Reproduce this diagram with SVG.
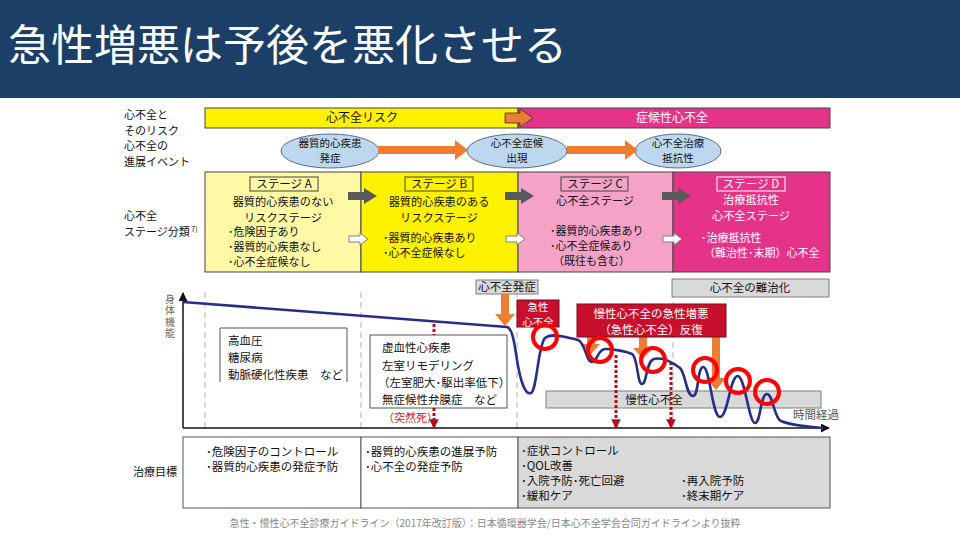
<svg xmlns="http://www.w3.org/2000/svg" width="960" height="540" viewBox="0 0 960 540">
<defs>
<style>
text{font-family:"Noto Sans CJK JP","Noto Sans",sans-serif;fill:#111}
.lbl{font-size:12px}
.st{font-size:11.2px}
.rl{font-size:11px}
.s{font-size:11.5px}
.b{font-size:11px}
.e{font-size:10.5px}
.c{text-anchor:middle}
.w{fill:#fff}
.ell{fill:#BDD7EE;stroke:#5a6f85;stroke-width:1}
.oa{fill:#ED7D31}
.ga{fill:#595959}
.wa{fill:#fff;stroke:#7f7f7f;stroke-width:1}
.grey{fill:#D9D9D9;stroke:#7f7f7f;stroke-width:1}
.redb{fill:#C8102E;stroke:#7a0a1a;stroke-width:1}
.circ{fill:none;stroke:#FF0000;stroke-width:4}
.rd{stroke:#B0101E;stroke-width:3;stroke-dasharray:3 2;fill:none}
.vd{stroke:#bfbfbf;stroke-width:1.2;stroke-dasharray:6 4}
</style>
<marker id="rh" viewBox="0 0 10 10" refX="9" refY="5" markerWidth="3.2" markerHeight="3.2" orient="auto"><path d="M0,0 L10,5 L0,10 z" fill="#B0101E"/></marker>
<marker id="kh" viewBox="0 0 10 10" refX="9" refY="5" markerWidth="6" markerHeight="6" orient="auto"><path d="M0,0 L10,5 L0,10 z" fill="#111"/></marker>
</defs>

<g id="header">
<rect x="0" y="0" width="960" height="98" fill="#1B3F66"/>
<text x="8" y="61" style="font-size:43px;fill:#fff">急性増悪は予後を悪化させる</text>
</g>

<g id="row-labels">
<text class="rl" x="124" y="119">心不全と</text>
<text class="rl" x="124" y="135">そのリスク</text>
<text class="rl" x="124" y="150">心不全の</text>
<text class="rl" x="124" y="166">進展イベント</text>
<text class="rl" x="124" y="220">心不全</text>
<text class="rl" x="124" y="236">ステージ分類<tspan style="font-size:7px" dy="-4"> 7)</tspan></text>
<text class="rl" x="133" y="476">治療目標</text>
</g>

<g id="risk-bar">
<rect x="205" y="108" width="313" height="20" fill="#FFF200" stroke="#444" stroke-width="1"/>
<rect x="518" y="108" width="312" height="20" fill="#E5338A" stroke="#444" stroke-width="1"/>
<text class="lbl c" x="362" y="122">心不全リスク</text>
<text class="lbl c w" x="672" y="122">症候性心不全</text>
<path d="M505,113 L520,113 L520,109 L533,118 L520,127 L520,123 L505,123 z" fill="#ED7D31" stroke="#333" stroke-width="0.8"/>
</g>

<g id="event-1">
<ellipse class="ell" cx="330" cy="151" rx="49" ry="17"/>
<text class="e c" x="330" y="147">器質的心疾患</text>
<text class="e c" x="330" y="162">発症</text>
</g>
<g id="event-2">
<ellipse class="ell" cx="517" cy="151" rx="50" ry="17"/>
<text class="e c" x="517" y="147">心不全症候</text>
<text class="e c" x="517" y="162">出現</text>
</g>
<g id="event-3">
<ellipse class="ell" cx="678" cy="151" rx="43" ry="17"/>
<text class="e c" x="678" y="147">心不全治療</text>
<text class="e c" x="678" y="162">抵抗性</text>
</g>

<g id="stage-a">
<rect x="205" y="172" width="156" height="100" fill="#FFF9A6" stroke="#444" stroke-width="1"/>
<rect x="250" y="177" width="68" height="14" fill="none" stroke="#444" stroke-width="1"/>
<text class="s c" x="284" y="188">ステージ A</text>
<text class="st c" x="283" y="206">器質的心疾患のない</text>
<text class="st c" x="283" y="222">リスクステージ</text>
<text class="b" x="228" y="236">･危険因子あり</text>
<text class="b" x="228" y="251">･器質的心疾患なし</text>
<text class="b" x="228" y="266">･心不全症候なし</text>
</g>
<g id="stage-b">
<rect x="361" y="172" width="157" height="100" fill="#FFF200" stroke="#444" stroke-width="1"/>
<rect x="405" y="177" width="68" height="14" fill="none" stroke="#444" stroke-width="1"/>
<text class="s c" x="439" y="188">ステージ B</text>
<text class="st c" x="439" y="206">器質的心疾患のある</text>
<text class="st c" x="439" y="222">リスクステージ</text>
<text class="b" x="383" y="242">･器質的心疾患あり</text>
<text class="b" x="383" y="257">･心不全症候なし</text>
</g>
<g id="stage-c">
<rect x="518" y="172" width="155" height="100" fill="#F4A3C6" stroke="#444" stroke-width="1"/>
<rect x="561" y="177" width="67" height="14" fill="none" stroke="#444" stroke-width="1"/>
<text class="s c" x="595" y="188">ステージ C</text>
<text class="st c" x="595" y="205">心不全ステージ</text>
<text class="b" x="550" y="235">･器質的心疾患あり</text>
<text class="b" x="550" y="250">･心不全症候あり</text>
<text class="b" x="553" y="265">（既往も含む）</text>
</g>
<g id="stage-d">
<rect x="673" y="172" width="157" height="100" fill="#E5338A" stroke="#444" stroke-width="1"/>
<rect x="717" y="177" width="68" height="14" fill="none" stroke="#fff" stroke-width="1"/>
<text class="s c w" x="751" y="188">ステージ D</text>
<text class="st c w" x="751" y="204">治療抵抗性</text>
<text class="st c w" x="751" y="220">心不全ステージ</text>
<text class="b w" x="701" y="242">･治療抵抗性</text>
<text class="b w" x="704" y="257">（難治性･末期）心不全</text>
</g>

<g id="connectors">
<path class="oa" d="M378,146 L455,146 L455,140 L468,150 L455,160 L455,154 L378,154 z"/>
<path class="oa" d="M567,146 L625,146 L625,140 L638,150 L625,160 L625,154 L567,154 z"/>
<path class="ga" d="M348,192 L364,192 L364,188 L377,196 L364,204 L364,200 L348,200 z"/>
<path class="ga" d="M505,192 L521,192 L521,188 L534,196 L521,204 L521,200 L505,200 z"/>
<path class="ga" d="M662,192 L678,192 L678,188 L691,196 L678,204 L678,200 L662,200 z"/>
<path class="wa" d="M349,236 L360,236 L360,233 L368,239 L360,245 L360,242 L349,242 z"/>
<path class="wa" d="M506,236 L517,236 L517,233 L525,239 L517,245 L517,242 L506,242 z"/>
<path class="wa" d="M663,236 L674,236 L674,233 L682,239 L674,245 L674,242 L663,242 z"/>
</g>

<g id="chart">
<line class="vd" x1="205" y1="292" x2="205" y2="428"/>
<line class="vd" x1="361" y1="292" x2="361" y2="428"/>
<line class="vd" x1="517" y1="292" x2="517" y2="428"/>
<line class="vd" x1="673" y1="292" x2="673" y2="428"/>
<line x1="183" y1="428" x2="183" y2="293" stroke="#111" stroke-width="1.5" marker-end="url(#kh)"/>
<line x1="183" y1="428" x2="829" y2="428" stroke="#111" stroke-width="1.5" marker-end="url(#kh)"/>
<text x="170" y="294" style="writing-mode:vertical-rl;font-size:10px;letter-spacing:1.5px;fill:#666">身体機能</text>
<text x="793" y="419" style="font-size:11.5px;fill:#555">時間経過</text>
</g>

<g id="box-risk">
<path d="M220,382 L220,328 L347,328 L347,382" fill="#fff" stroke="#555" stroke-width="1"/>
<text class="s" x="228" y="345">高血圧</text>
<text class="s" x="228" y="362">糖尿病</text>
<text class="s" x="228" y="379">動脈硬化性疾患　など</text>
</g>

<g id="box-structural">
<rect x="370" y="335" width="137" height="73" fill="#fff" stroke="#555" stroke-width="1"/>
<text class="s" x="382" y="352">虚血性心疾患</text>
<text class="s" x="382" y="370">左室リモデリング</text>
<text class="s" x="378" y="387">（左室肥大･駆出率低下）</text>
<text class="s" x="382" y="404">無症候性弁膜症　など</text>
<text x="383" y="422" style="font-size:11px;fill:#D02030">（突然死）</text>
</g>

<g id="chronic-hf">
<rect class="grey" x="546" y="391" width="275" height="17"/>
<text class="s c" x="654" y="404">慢性心不全</text>
</g>

<g id="hf-onset">
<rect class="grey" x="476" y="280" width="62" height="14"/>
<text class="s c" x="507" y="291">心不全発症</text>
</g>
<g id="refractory">
<rect class="grey" x="672" y="279" width="157" height="18"/>
<text class="s c" x="750" y="292">心不全の難治化</text>
</g>

<g id="chart-connectors">
<path class="oa" d="M501,294 L509,294 L509,314 L515,314 L505,326 L495,314 L501,314 z"/>
<path class="oa" d="M587,337 L595,337 L595,344 L600,344 L591,354 L582,344 L587,344 z"/>
<path class="oa" d="M639,337 L647,337 L647,348 L653,348 L643,359 L633,348 L639,348 z"/>
<path class="oa" d="M712,337 L720,337 L720,378 L726,378 L716,390 L706,378 L712,378 z"/>
<line class="rd" x1="434" y1="324" x2="434" y2="335"/>
<line class="rd" x1="434" y1="408" x2="434" y2="428" marker-end="url(#rh)"/>
<line class="rd" x1="616" y1="355" x2="616" y2="428" marker-end="url(#rh)"/>
<line class="rd" x1="671" y1="362" x2="671" y2="428" marker-end="url(#rh)"/>
<path d="M183,302 L507,327 C512,328 514,340 517,360 C521,385 526,395 531,393 C537,390 538,345 545,338 C552,332 570,338 578,340 C585,342 586,362 592,362 C597,362 598,349 605,349 C612,349 625,351 632,354 C638,357 637,384 642,384 C647,384 646,361 654,359 C662,357 672,362 680,368 C686,374 686,396 693,396 C699,396 697,368 703,367 C710,366 712,417 720,417 C728,417 730,375 738,376 C745,377 749,423 755,423 C761,423 760,394 767,394 C773,394 774,418 781,421 C790,425 810,427 823,428" fill="none" stroke="#262E8A" stroke-width="2.6"/>
</g>

<g id="acute-hf">
<rect class="redb" x="517" y="300" width="42" height="27"/>
<text class="e c w" x="538" y="311">急性</text>
<text class="e c w" x="538" y="326">心不全</text>
</g>
<g id="acute-exacerbation">
<rect class="redb" x="577" y="304" width="149" height="33"/>
<text class="s c w" x="651" y="318">慢性心不全の急性増悪</text>
<text class="s c w" x="651" y="334">（急性心不全）反復</text>
</g>

<g id="circles">
<circle class="circ" cx="545" cy="337" r="12"/>
<circle class="circ" cx="600" cy="350" r="12"/>
<circle class="circ" cx="653" cy="360" r="12"/>
<circle class="circ" cx="705" cy="370" r="12"/>
<circle class="circ" cx="738" cy="381" r="12"/>
<circle class="circ" cx="767" cy="392" r="12"/>
</g>

<g id="goals">
<rect x="183" y="437" width="178" height="71" fill="#fff" stroke="#555" stroke-width="1"/>
<rect x="361" y="437" width="157" height="71" fill="#fff" stroke="#555" stroke-width="1"/>
<rect x="518" y="437" width="312" height="71" fill="#D9D9D9" stroke="#555" stroke-width="1"/>
<text class="s" x="206" y="456">･危険因子のコントロール</text>
<text class="s" x="206" y="471">･器質的心疾患の発症予防</text>
<text class="s" x="365" y="456">･器質的心疾患の進展予防</text>
<text class="s" x="365" y="471">･心不全の発症予防</text>
<text class="s" x="521" y="455">･症状コントロール</text>
<text class="s" x="521" y="470">･QOL改善</text>
<text class="s" x="521" y="485">･入院予防･死亡回避</text>
<text class="s" x="521" y="500">･緩和ケア</text>
<text class="s" x="681" y="485">･再入院予防</text>
<text class="s" x="681" y="500">･終末期ケア</text>
</g>

<g id="footer">
<text x="485" y="527" class="c" style="font-size:10px;fill:#888">急性・慢性心不全診療ガイドライン（2017年改訂版）：日本循環器学会/日本心不全学会合同ガイドラインより抜粋</text>
</g>
</svg>
